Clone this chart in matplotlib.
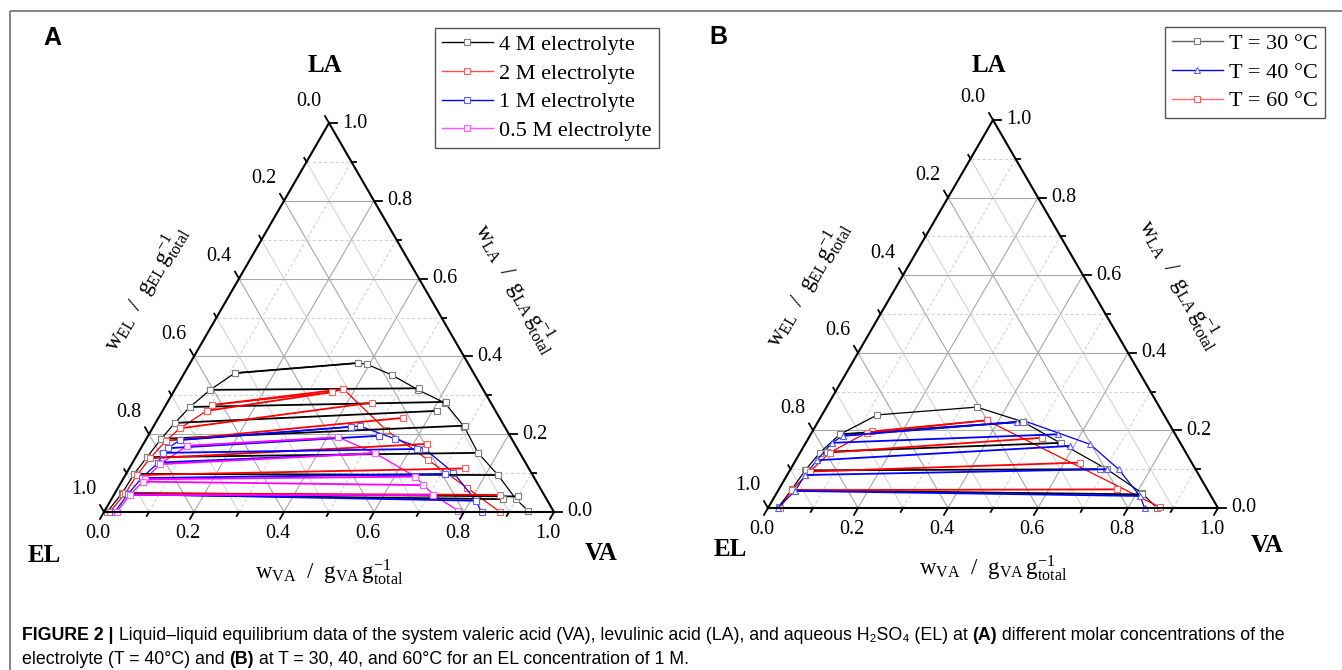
import matplotlib
matplotlib.use('Agg')
import matplotlib.pyplot as plt
from matplotlib.lines import Line2D
from matplotlib.patches import Rectangle
import numpy as np

plt.rcParams['font.family'] = ['Liberation Serif', 'DejaVu Serif']
plt.rcParams['mathtext.fontset'] = 'custom'
plt.rcParams['mathtext.rm'] = 'Liberation Serif'
plt.rcParams['mathtext.it'] = 'Liberation Serif:italic'
plt.rcParams['mathtext.bf'] = 'Liberation Serif:bold'

# ---------------- panel A : T = 40 C, different electrolyte molarity ----------------
# binodal curves (w_VA, w_LA)
a4_bin_va = [0.007, 0.016, 0.018, 0.025, 0.033, 0.043, 0.056, 0.079, 0.112, 0.373, 0.394, 0.464, 0.541, 0.618, 0.691, 0.755, 0.828, 0.899, 0.941]
a4_bin_la = [0.000, 0.049, 0.098, 0.141, 0.188, 0.229, 0.270, 0.314, 0.357, 0.383, 0.380, 0.352, 0.314, 0.280, 0.219, 0.152, 0.095, 0.033, 0.003]
# tie lines: EL-rich phase (l) -> VA-rich phase (r)
a4_tie_lva = [0.112, 0.079, 0.056, 0.043, 0.033, 0.025, 0.018, 0.016, 0.020]
a4_tie_lla = [0.357, 0.314, 0.270, 0.229, 0.188, 0.141, 0.098, 0.049, 0.045]
a4_tie_rva = [0.373, 0.541, 0.618, 0.611, 0.691, 0.755, 0.828, 0.899, 0.871]
a4_tie_rla = [0.383, 0.318, 0.283, 0.260, 0.222, 0.152, 0.095, 0.040, 0.033]

a2_bin_va = [0.013, 0.023, 0.026, 0.033, 0.046, 0.061, 0.098, 0.102, 0.352, 0.374, 0.521, 0.653, 0.776, 0.880]
a2_bin_la = [0.000, 0.048, 0.095, 0.138, 0.183, 0.215, 0.260, 0.275, 0.308, 0.316, 0.211, 0.134, 0.062, 0.000]
a2_tie_lva = [0.102, 0.098, 0.061, 0.046, 0.033, 0.026, 0.023]
a2_tie_lla = [0.275, 0.260, 0.215, 0.183, 0.138, 0.095, 0.048]
a2_tie_rva = [0.374, 0.352, 0.454, 0.544, 0.630, 0.746, 0.858]
a2_tie_rla = [0.316, 0.308, 0.281, 0.242, 0.175, 0.112, 0.044]

a1_bin_va = [0.024, 0.030, 0.040, 0.057, 0.055, 0.060, 0.076, 0.439, 0.458, 0.553, 0.632, 0.726, 0.812, 0.839]
a1_bin_la = [0.000, 0.046, 0.087, 0.127, 0.152, 0.164, 0.185, 0.219, 0.221, 0.188, 0.162, 0.101, 0.029, 0.000]
a1_tie_lva = [0.076, 0.060, 0.055, 0.057, 0.040, 0.030]
a1_tie_lla = [0.185, 0.164, 0.152, 0.127, 0.087, 0.046]
a1_tie_rva = [0.439, 0.513, 0.615, 0.527, 0.709, 0.812]
a1_tie_rla = [0.219, 0.196, 0.162, 0.151, 0.098, 0.029]

a05_bin_va = [0.028, 0.036, 0.049, 0.063, 0.099, 0.425, 0.527, 0.646, 0.710, 0.786]
a05_bin_la = [0.000, 0.044, 0.084, 0.123, 0.170, 0.192, 0.151, 0.091, 0.044, 0.003]
a05_tie_lva = [0.099, 0.063, 0.049, 0.047, 0.036]
a05_tie_lla = [0.170, 0.123, 0.084, 0.078, 0.044]
a05_tie_rva = [0.425, 0.527, 0.646, 0.675, 0.710]
a05_tie_rla = [0.192, 0.151, 0.091, 0.069, 0.044]

# ---------------- panel B : 1 M electrolyte, different temperature ----------------
b30_bin_va = [0.022, 0.029, 0.034, 0.044, 0.065, 0.123, 0.334, 0.456, 0.565, 0.703, 0.811, 0.863]
b30_bin_la = [0.003, 0.048, 0.097, 0.143, 0.190, 0.240, 0.260, 0.222, 0.168, 0.100, 0.039, 0.001]
b30_tie_lva = [0.065, 0.058, 0.037, 0.033]
b30_tie_lla = [0.190, 0.145, 0.097, 0.046]
b30_tie_rva = [0.456, 0.568, 0.688, 0.813]
b30_tie_rla = [0.222, 0.168, 0.100, 0.035]

b40_bin_va = [0.022, 0.038, 0.040, 0.047, 0.058, 0.074, 0.442, 0.459, 0.634, 0.729, 0.811, 0.837]
b40_bin_la = [0.001, 0.044, 0.085, 0.123, 0.168, 0.186, 0.222, 0.224, 0.164, 0.100, 0.031, 0.000]
b40_tie_lva = [0.074, 0.058, 0.047, 0.040, 0.038]
b40_tie_lla = [0.186, 0.168, 0.123, 0.085, 0.044]
b40_tie_rva = [0.442, 0.550, 0.591, 0.703, 0.811]
b40_tie_rla = [0.222, 0.190, 0.160, 0.100, 0.031]

b60_bin_va = [0.026, 0.030, 0.046, 0.066, 0.122, 0.131, 0.373, 0.870]
b60_bin_la = [0.001, 0.046, 0.094, 0.143, 0.194, 0.198, 0.226, 0.002]
b60_tie_lva = [0.122, 0.066, 0.046, 0.030]
b60_tie_lla = [0.194, 0.143, 0.094, 0.046]
b60_tie_rva = [0.373, 0.518, 0.635, 0.751]
b60_tie_rla = [0.226, 0.181, 0.117, 0.048]

ticks = [0.0, 0.2, 0.4, 0.6, 0.8, 1.0]
tick_labels = ['0.0', '0.2', '0.4', '0.6', '0.8', '1.0']

W, H = 1342, 670
fig = plt.figure(figsize=(W / 100, H / 100), dpi=100)
ax = fig.add_axes([0, 0, 1, 1])
ax.set_xlim(0, W)
ax.set_ylim(H, 0)
ax.axis('off')


def make_tern(el, va, la):
    el = np.array(el, float); va = np.array(va, float); la = np.array(la, float)

    def f(v, l):
        v = np.asarray(v, float); l = np.asarray(l, float)
        x = el[0] + v * (va[0] - el[0]) + l * (la[0] - el[0])
        y = el[1] + v * (va[1] - el[1]) + l * (la[1] - el[1])
        return x, y
    return f, el, va, la


def unit(d):
    return d / np.hypot(*d)


def draw_frame(tern):
    f, el, va, la = tern
    # grid
    for k in range(1, 10):
        c = k / 10
        major = (k % 2 == 0)
        col = '#a8a8a8' if major else '#d4d4d4'
        ls_d = '-' if major else (0, (3, 2))
        x, y = f([0, 1 - c], [c, c])          # constant LA
        ax.plot(x, y, color=col, lw=0.8, ls=ls_d, zorder=1)
        x, y = f([c, c], [0, 1 - c])          # constant VA
        ax.plot(x, y, color=col, lw=0.8, ls=ls_d, zorder=1)
        x, y = f([1 - c, 0], [0, 1 - c])      # constant EL
        ax.plot(x, y, color=col, lw=0.8, ls='-', zorder=1)
    # triangle
    x, y = f([0, 1, 0, 0], [0, 0, 1, 0])
    ax.plot(x, y, color='black', lw=1.5, zorder=6, solid_joinstyle='miter')
    d_bot = unit(el - la)
    d_right = unit(va - el)
    d_left = unit(la - va)
    for k in range(11):
        c = k / 10
        L = 8 if k % 2 == 0 else 4.5
        x, y = f(c, 0)
        ax.plot([x, x + L * d_bot[0]], [y, y + L * d_bot[1]], color='black', lw=1.3, zorder=6)
        x, y = f(1 - c, c)
        ax.plot([x, x + L * d_right[0]], [y, y + L * d_right[1]], color='black', lw=1.3, zorder=6)
        x, y = f(0, 1 - c)
        ax.plot([x, x + L * d_left[0]], [y, y + L * d_left[1]], color='black', lw=1.3, zorder=6)
    for t, lab in zip(ticks, tick_labels):
        x, y = f(t, 0)
        ax.text(x - 6, y + 21, lab, ha='center', va='center', fontsize=14.5)
        x, y = f(1 - t, t)
        ax.text(x + 13, y, lab, ha='left', va='center', fontsize=14.5)
        x, y = f(0, 1 - t)
        ax.text(x - 20, y - 22, lab, ha='center', va='center', fontsize=14.5)


def draw_series(tern, bva, bla, lva, lla, rva, rla, color, mec, marker):
    f = tern[0]
    x, y = f(bva, bla)
    ax.plot(x, y, color=color, lw=0.9, marker=marker, ms=3.8, mfc='white', mec=mec, mew=0.8, zorder=3)
    for a, b, c, d in zip(lva, lla, rva, rla):
        x, y = f([a, c], [b, d])
        ax.plot(x, y, color=color, lw=1.3, marker=marker, ms=3.8, mfc='white', mec=mec, mew=0.8, zorder=4)


def titles(corner_pos, left_pos, right_pos, bottom_pos):
    for (px, py), s in zip(corner_pos, ['LA', 'EL', 'VA']):
        ax.text(px, py, s, fontsize=18, fontweight='bold', ha='center', va='center')
    ax.text(left_pos[0], left_pos[1], r'$\mathrm{w_{EL}\ \ /\ \ g_{EL}\,g^{-1}_{total}}$', fontsize=16.5,
            rotation=60, ha='center', va='center', rotation_mode='anchor')
    ax.text(right_pos[0], right_pos[1], r'$\mathrm{w_{LA}\ \ /\ \ g_{LA}\,g^{-1}_{total}}$', fontsize=16.5,
            rotation=-60, ha='center', va='center', rotation_mode='anchor')
    ax.text(bottom_pos[0], bottom_pos[1], r'$\mathrm{w_{VA}\ \ /\ \ g_{VA}\,g^{-1}_{total}}$', fontsize=16.5,
            ha='center', va='center')


# panel A
tA = make_tern((104, 512), (554, 512), (329, 123))
draw_frame(tA)
draw_series(tA, a4_bin_va, a4_bin_la, a4_tie_lva, a4_tie_lla, a4_tie_rva, a4_tie_rla, 'black', '#7f7f7f', 's')
draw_series(tA, a2_bin_va, a2_bin_la, a2_tie_lva, a2_tie_lla, a2_tie_rva, a2_tie_rla, 'red', '#ff6060', 's')
draw_series(tA, a1_bin_va, a1_bin_la, a1_tie_lva, a1_tie_lla, a1_tie_rva, a1_tie_rla, 'blue', '#6060ff', 's')
draw_series(tA, a05_bin_va, a05_bin_la, a05_tie_lva, a05_tie_lla, a05_tie_rva, a05_tie_rla, 'magenta', '#ff60ff', 's')
titles([(325, 66), (44, 555), (601, 553)], (146, 288), (516, 288), (329, 572))

# panel B
tB = make_tern((768, 508), (1218, 508), (993, 120))
draw_frame(tB)
draw_series(tB, b30_bin_va, b30_bin_la, b30_tie_lva, b30_tie_lla, b30_tie_rva, b30_tie_rla, 'black', '#7f7f7f', 's')
draw_series(tB, b60_bin_va, b60_bin_la, b60_tie_lva, b60_tie_lla, b60_tie_rva, b60_tie_rla, 'red', '#ff6060', 's')
draw_series(tB, b40_bin_va, b40_bin_la, b40_tie_lva, b40_tie_lla, b40_tie_rva, b40_tie_rla, 'blue', '#6060ff', '^')
titles([(989, 65), (730, 550), (1267, 546)], (808, 284), (1180, 284), (993, 568))

# panel letters
ax.text(52, 38, 'A', fontsize=18, fontweight='bold', family=['Liberation Sans', 'DejaVu Sans'], ha='center', va='center')
ax.text(718, 37, 'B', fontsize=18, fontweight='bold', family=['Liberation Sans', 'DejaVu Sans'], ha='center', va='center')


# legends
def handle(color, mec, marker):
    return Line2D([], [], color=color, lw=1.0, marker=marker, ms=3.8, mfc='white', mec=mec, mew=0.8)


leg_kw = dict(loc='upper left', bbox_transform=ax.transData, fontsize=16, frameon=True, fancybox=False,
              edgecolor='#555555', framealpha=1, handlelength=2.3, handletextpad=0.3, labelspacing=0.36,
              borderpad=0.3, borderaxespad=0)
legA = ax.legend([handle('black', '#7f7f7f', 's'), handle('#ff5050', '#ff6060', 's'),
                  handle('blue', '#6060ff', 's'), handle('#ff50ff', '#ff60ff', 's')],
                 ['4 M electrolyte', '2 M electrolyte', '1 M electrolyte', '0.5 M electrolyte'],
                 bbox_to_anchor=(435, 28), **leg_kw)
legA.get_frame().set_linewidth(1.0)
ax.add_artist(legA)
legB = ax.legend([handle('#606060', '#7f7f7f', 's'), handle('blue', '#6060ff', '^'), handle('#ff7070', '#ff6060', 's')],
                 ['T = 30 °C', 'T = 40 °C', 'T = 60 °C'],
                 bbox_to_anchor=(1165, 27), **leg_kw)
legB.get_frame().set_linewidth(1.0)

# outer frame
ax.add_patch(Rectangle((9.5, 10.5), 1345, 700, fill=False, edgecolor='#707070', lw=1.2, clip_on=False))

# caption
cap_font = ['Liberation Sans', 'DejaVu Sans']
renderer = fig.canvas.get_renderer()
lines = [
    [('FIGURE 2 |', 'bold'),
     (' Liquid–liquid equilibrium data of the system valeric acid (VA), levulinic acid (LA), and aqueous H₂SO₄ (EL) at ', 'normal'),
     ('(A)', 'bold'), (' different molar concentrations of the', 'normal')],
    [('electrolyte (T = 40°C) and ', 'normal'), ('(B)', 'bold'),
     (' at T = 30, 40, and 60°C for an EL concentration of 1 M.', 'normal')],
]
for yy, parts in zip([636, 659], lines):
    xx = 22
    for s, wgt in parts:
        t = ax.text(xx, yy, s, fontsize=12.8, fontweight=wgt, family=cap_font, ha='left', va='center')
        xx += t.get_window_extent(renderer).width

fig.savefig('out.png', dpi=100)
